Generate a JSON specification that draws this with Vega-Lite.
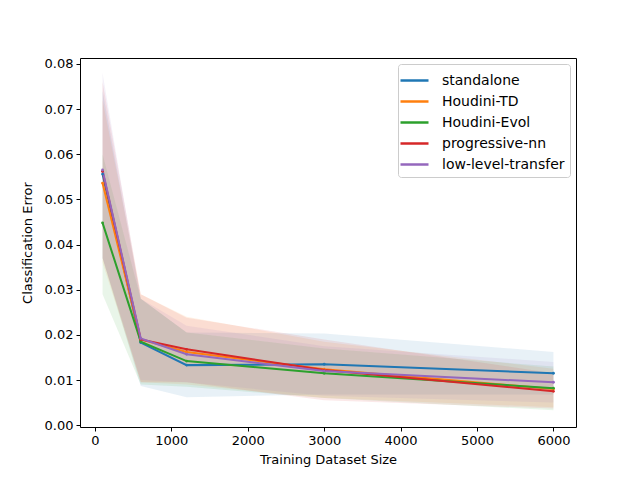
{
  "$schema": "https://vega.github.io/schema/vega-lite/v6.json",
  "width": 496,
  "height": 369,
  "autosize": {"type": "none"},
  "padding": {"left": 80, "top": 58, "right": 64, "bottom": 53},
  "background": "white",
  "config": {
    "font": "DejaVu Sans",
    "view": {"stroke": "black", "strokeWidth": 1},
    "axis": {
      "grid": false,
      "domain": false,
      "tickColor": "black",
      "tickSize": 4,
      "labelColor": "black",
      "labelFontSize": 13,
      "titleFontSize": 13,
      "titleFontWeight": "normal",
      "titleColor": "black",
      "labelPadding": 3
    }
  },
  "data": {
    "values": [
      {"series": "standalone", "size": 100, "err": 0.0556, "lo": 0.037, "hi": 0.074},
      {"series": "standalone", "size": 600, "err": 0.0183, "lo": 0.0087, "hi": 0.028},
      {"series": "standalone", "size": 1200, "err": 0.0133, "lo": 0.0062, "hi": 0.0205},
      {"series": "standalone", "size": 3000, "err": 0.0135, "lo": 0.0068, "hi": 0.0203},
      {"series": "standalone", "size": 6000, "err": 0.0115, "lo": 0.0068, "hi": 0.0162},
      {"series": "Houdini-TD", "size": 100, "err": 0.0536, "lo": 0.036, "hi": 0.072},
      {"series": "Houdini-TD", "size": 600, "err": 0.019, "lo": 0.0095, "hi": 0.029},
      {"series": "Houdini-TD", "size": 1200, "err": 0.0162, "lo": 0.009, "hi": 0.024},
      {"series": "Houdini-TD", "size": 3000, "err": 0.0124, "lo": 0.006, "hi": 0.0185},
      {"series": "Houdini-TD", "size": 6000, "err": 0.008, "lo": 0.004, "hi": 0.0125},
      {"series": "Houdini-Evol", "size": 100, "err": 0.0448, "lo": 0.029, "hi": 0.06},
      {"series": "Houdini-Evol", "size": 600, "err": 0.0185, "lo": 0.009, "hi": 0.028},
      {"series": "Houdini-Evol", "size": 1200, "err": 0.0142, "lo": 0.0085, "hi": 0.0205},
      {"series": "Houdini-Evol", "size": 3000, "err": 0.0115, "lo": 0.006, "hi": 0.017},
      {"series": "Houdini-Evol", "size": 6000, "err": 0.0082, "lo": 0.0033, "hi": 0.013},
      {"series": "progressive-nn", "size": 100, "err": 0.0562, "lo": 0.037, "hi": 0.076},
      {"series": "progressive-nn", "size": 600, "err": 0.019, "lo": 0.0095, "hi": 0.029},
      {"series": "progressive-nn", "size": 1200, "err": 0.0168, "lo": 0.0095, "hi": 0.0238},
      {"series": "progressive-nn", "size": 3000, "err": 0.0122, "lo": 0.0055, "hi": 0.019},
      {"series": "progressive-nn", "size": 6000, "err": 0.0075, "lo": 0.0037, "hi": 0.0115},
      {"series": "low-level-transfer", "size": 100, "err": 0.0565, "lo": 0.037, "hi": 0.078},
      {"series": "low-level-transfer", "size": 600, "err": 0.0192, "lo": 0.01, "hi": 0.028},
      {"series": "low-level-transfer", "size": 1200, "err": 0.0157, "lo": 0.0095, "hi": 0.022},
      {"series": "low-level-transfer", "size": 3000, "err": 0.012, "lo": 0.0065, "hi": 0.0175},
      {"series": "low-level-transfer", "size": 6000, "err": 0.0095, "lo": 0.005, "hi": 0.014}
    ]
  },
  "encoding": {
    "x": {
      "field": "size",
      "type": "quantitative",
      "title": "Training Dataset Size",
      "scale": {"domain": [-195, 6295], "nice": false, "zero": false},
      "axis": {"values": [0, 1000, 2000, 3000, 4000, 5000, 6000], "format": "d", "titlePadding": 6}
    },
    "color": {
      "field": "series",
      "type": "nominal",
      "scale": {
        "domain": ["standalone", "Houdini-TD", "Houdini-Evol", "progressive-nn", "low-level-transfer"],
        "range": ["#1f77b4", "#ff7f0e", "#2ca02c", "#d62728", "#9467bd"]
      },
      "legend": {
        "title": null,
        "orient": "none",
        "legendX": 318,
        "legendY": 6,
        "symbolType": "M-1.4,0H1.4",
        "symbolSize": 400,
        "symbolStrokeWidth": 2.5,
        "symbolOpacity": 1,
        "labelFontSize": 14,
        "labelColor": "black",
        "rowPadding": 2,
        "padding": 5,
        "strokeColor": "#cccccc",
        "fillColor": "white",
        "cornerRadius": 3,
        "labelOffset": 16
      }
    }
  },
  "layer": [
    {
      "mark": {"type": "area", "opacity": 0.1},
      "encoding": {
        "y": {
          "field": "lo",
          "type": "quantitative",
          "title": "Classification Error",
          "scale": {"domain": [-0.0004, 0.0813], "nice": false, "zero": false},
          "axis": {"values": [0, 0.01, 0.02, 0.03, 0.04, 0.05, 0.06, 0.07, 0.08], "format": ".2f", "titlePadding": 10}
        },
        "y2": {"field": "hi"}
      }
    },
    {
      "mark": {"type": "line", "strokeWidth": 2},
      "encoding": {
        "y": {"field": "err", "type": "quantitative"}
      }
    },
    {
      "mark": {"type": "point", "filled": true, "size": 8, "opacity": 1},
      "encoding": {
        "y": {"field": "err", "type": "quantitative"}
      }
    }
  ]
}
